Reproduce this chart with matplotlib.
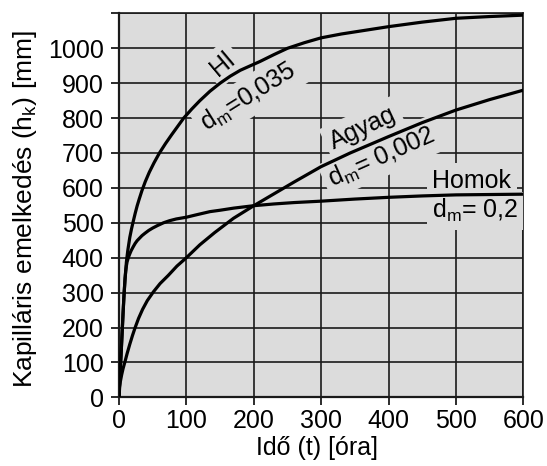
import matplotlib
matplotlib.use("Agg")
import matplotlib.pyplot as plt

# ---- data ----
t_hl = [0, 1, 2, 3, 4, 5, 6, 7.5, 9, 11, 13, 16, 18.5, 21, 24, 27, 30, 34, 39, 45, 52, 60, 69, 78, 87,
        96, 108, 120, 135, 150, 165, 180, 195, 209, 230, 250, 275, 300, 330, 360, 400, 450, 500, 550, 600]
h_hl = [0, 45, 85, 120, 160, 200, 240, 295, 340, 388, 420, 458, 482, 503, 527, 549, 568, 592, 618, 645, 672, 700, 727, 752, 776,
        800, 826, 850, 877, 900, 920, 937, 950, 962, 982, 1000, 1016, 1030, 1041, 1050, 1062, 1075, 1086, 1091, 1095]

t_homok = [0, 1, 2, 3, 4, 5, 6, 7.5, 9, 10, 11, 12, 14, 16, 18, 21, 24, 27, 30, 34, 38.5, 44, 50, 57, 66,
           75, 85, 100, 115, 135, 150, 170, 200, 230, 260, 300, 350, 400, 450, 500, 550, 600]
h_homok = [0, 45, 85, 120, 160, 200, 240, 295, 340, 362, 377, 388, 401, 411, 420, 431, 441, 449, 455, 463, 470, 478, 485, 492, 500,
           506, 511, 516, 523, 532, 536, 542, 549, 554, 558, 562, 568, 573, 577, 580, 581, 582]

t_agyag = [0, 1, 2, 4, 6, 9, 12, 16, 20, 24, 29, 35, 42, 51, 61, 73, 86, 100, 120, 142, 170, 200,
           230, 260, 300, 343, 400, 450, 500, 550, 600]
h_agyag = [0, 30, 45, 65, 82, 103, 125, 152, 177, 200, 226, 252, 277, 302, 326, 349, 376, 400, 437, 472, 513, 549,
           583, 617, 661, 700, 747, 787, 823, 853, 880]

x_ticks = [0, 100, 200, 300, 400, 500, 600]
y_ticks = [0, 100, 200, 300, 400, 500, 600, 700, 800, 900, 1000, 1100]
y_ticklabels = ["0", "100", "200", "300", "400", "500", "600", "700", "800", "900", "1000", ""]

plt.rcParams['font.family'] = ['Liberation Sans', 'DejaVu Sans']
plt.rcParams['mathtext.fontset'] = 'custom'
plt.rcParams['mathtext.rm'] = 'Liberation Sans'

BG = '#dcdcdc'
GRID = '#1a1a1a'
W, H = 547, 466

fig = plt.figure(figsize=(W/100, H/100), dpi=100)
ax = fig.add_axes([119/W, 1-397.3/H, (523.3-119)/W, (397.3-13.4)/H])
ax.set_facecolor(BG)
ax.set_xlim(0, 600)
ax.set_ylim(0, 1100)
ax.set_axisbelow(True)
ax.grid(True, color=GRID, lw=1.2)

for s in ax.spines.values():
    s.set_color(GRID)
    s.set_linewidth(1.2)
ax.spines['left'].set_linewidth(1.6)
ax.spines['bottom'].set_linewidth(1.6)

ax.set_xticks(x_ticks)
ax.set_yticks(y_ticks)
ax.set_yticklabels(y_ticklabels)
ax.tick_params(axis='both', length=6, width=1.3, color=GRID, labelsize=18)
ax.tick_params(axis='y', pad=5)
ax.tick_params(axis='x', pad=2.5)

lw = 2.3
for tt, hh in [(t_hl, h_hl), (t_homok, h_homok), (t_agyag, h_agyag)]:
    ax.plot(tt, hh, color='black', lw=lw, zorder=4, solid_capstyle='round', solid_joinstyle='round')

box = dict(boxstyle='square,pad=0.22', fc=BG, ec='none')
fs = 18
def lab(x, y, s, rot, **kw):
    ax.text(x, y, s, rotation=rot, rotation_mode='anchor', fontsize=fs,
            bbox=box, zorder=3, clip_on=True, **kw)

lab(154, 955, 'Hl', 40, ha='center', va='center')
lab(192, 860, r'd$_\mathrm{m}$=0,035', 32, ha='center', va='center')
lab(362, 771, 'Agyag', 25, ha='center', va='center')
lab(390, 688, r'd$_\mathrm{m}$= 0,002', 24, ha='center', va='center')
lab(465, 600, 'Homok', 0, ha='left', va='baseline')
lab(465, 513, r'd$_\mathrm{m}$= 0,2', 0, ha='left', va='baseline')

fig.text(316.5/W, 1-455/H, 'Idő (t) [óra]', fontsize=18, ha='center', va='baseline')
fig.text(25/W, 1-209/H, r'Kapilláris emelkedés (h$_\mathrm{k}$) [mm]', fontsize=19,
         rotation=90, ha='center', va='center')

fig.savefig('out.png', dpi=100, facecolor='white')
